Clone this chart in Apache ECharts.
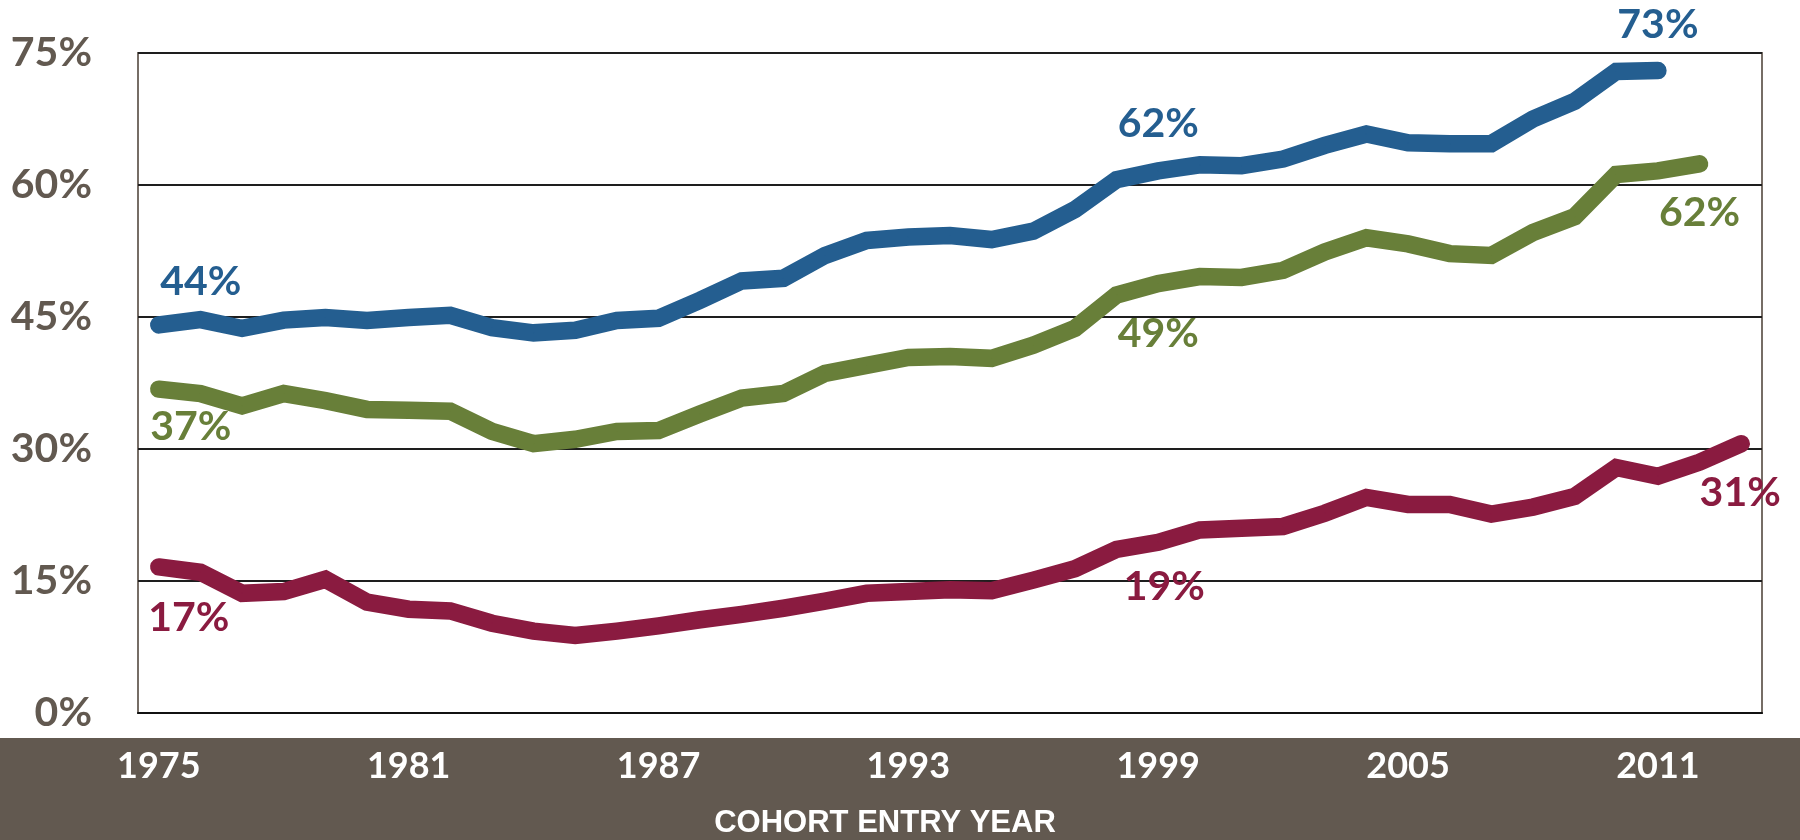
<!DOCTYPE html>
<html>
<head>
<meta charset="utf-8">
<script src="https://cdn.jsdelivr.net/npm/echarts@6/dist/echarts.min.js"></script>
<style>
html,body{margin:0;padding:0;background:#fff;}
#chart{width:1800px;height:840px;}
</style>
</head>
<body>
<div id="chart"></div>
<script>
// ---- data ----
const years = ['1975','1976','1977','1978','1979','1980','1981','1982','1983','1984','1985','1986','1987','1988','1989','1990','1991','1992','1993','1994','1995','1996','1997','1998','1999','2000','2001','2002','2003','2004','2005','2006','2007','2008','2009','2010','2011','2012','2013'];
const yTicks = [0, 15, 30, 45, 60, 75];
const xTitle = 'COHORT ENTRY YEAR';

const blueValues = [44.1,44.7,43.7,44.65,44.95,44.6,44.95,45.2,43.8,43.2,43.5,44.6,44.85,46.9,49.1,49.4,52.0,53.7,54.1,54.25,53.8,54.75,57.2,60.6,61.6,62.3,62.2,62.95,64.5,65.8,64.8,64.7,64.7,67.5,69.5,72.9,73.0,null,null];
const greenValues = [36.8,36.3,34.9,36.3,35.5,34.5,34.4,34.3,32.0,30.6,31.1,32.0,32.1,34.0,35.8,36.3,38.6,39.5,40.4,40.5,40.3,41.8,43.7,47.5,48.8,49.6,49.5,50.3,52.4,54.0,53.3,52.2,52.0,54.6,56.4,61.2,61.6,62.4,null];
const redValues = [16.6,16.0,13.6,13.8,15.2,12.6,11.8,11.6,10.2,9.3,8.8,9.3,9.9,10.6,11.2,11.9,12.7,13.6,13.8,14.0,13.9,15.1,16.4,18.6,19.4,20.8,21.0,21.2,22.7,24.5,23.7,23.7,22.6,23.4,24.6,27.9,26.9,28.5,30.6];

// which points carry a value label
const blueLabelYears = ['1975','1999','2011'];
const greenLabelYears = ['1975','1999','2012'];
const redLabelYears = ['1975','1999','2013'];

// ---- styling ----
const COLORS = {blue:'#245E90', green:'#687F39', red:'#8A1B40', band:'#625950', axisText:'#625950'};
const labelOffsets = {
  blue:  {'1975':[42,-43], '1999':[0,-47], '2011':[0,-46]},
  green: {'1975':[32,38],  '1999':[0,50],  '2012':[0,49]},
  red:   {'1975':[30,51],  '1999':[6,45],  '2013':[-1,49]}
};

function buildData(values, labelYears, color, offsets) {
  return values.map((v, i) => {
    const yr = years[i];
    if (v !== null && labelYears.indexOf(yr) >= 0) {
      return {
        value: v,
        label: {
          show: true,
          position: 'inside',
          offset: offsets[yr],
          formatter: p => Math.round(p.value) + '%',
          color: color,
          fontFamily: 'Lato',
          fontWeight: 'bold',
          fontSize: 41
        }
      };
    }
    return v;
  });
}

function lineSeries(name, values, labelYears, color, offsets) {
  return {
    name: name,
    type: 'line',
    data: buildData(values, labelYears, color, offsets),
    symbol: 'circle',
    symbolSize: 1,
    showSymbol: true,
    itemStyle: {color: color},
    lineStyle: {color: color, width: 17.5, cap: 'round', join: 'miter'},
    label: {show: false},
    emphasis: {disabled: true},
    animation: false
  };
}

const chart = echarts.init(document.getElementById('chart'), null, {renderer: 'canvas'});
chart.setOption({
  backgroundColor: '#ffffff',
  animation: false,
  grid: {left: 138, right: 38, top: 53, bottom: 127, show: true, borderColor: '#766d66', borderWidth: 2, backgroundColor: 'transparent'},
  graphic: [
    {type: 'rect', z: -10, silent: true, shape: {x: 0, y: 738, width: 1800, height: 102}, style: {fill: COLORS.band}},
    {type: 'text', z: 10, silent: true, x: 885, y: 823, style: {text: xTitle, fill: '#ffffff', font: 'bold 31px "Liberation Sans", Arial, sans-serif', textAlign: 'center', textVerticalAlign: 'middle'}}
  ],
  xAxis: {
    type: 'category',
    data: years,
    boundaryGap: true,
    axisLine: {show: true, lineStyle: {color: '#111111', width: 2}},
    axisTick: {show: false},
    axisLabel: {
      interval: 5,
      color: '#ffffff',
      fontFamily: 'Lato',
      fontWeight: 'bold',
      fontSize: 36,
      margin: 35
    },
    splitLine: {show: false}
  },
  yAxis: {
    type: 'value',
    min: yTicks[0],
    max: yTicks[yTicks.length - 1],
    interval: 15,
    axisLine: {show: false},
    axisTick: {show: false},
    axisLabel: {
      formatter: '{value}%',
      color: COLORS.axisText,
      fontFamily: 'Lato',
      fontWeight: 'bold',
      fontSize: 41,
      margin: 46
    },
    splitLine: {show: true, lineStyle: {color: '#1e1e1e', width: 2}}
  },
  series: [
    lineSeries('Blue', blueValues, blueLabelYears, COLORS.blue, labelOffsets.blue),
    lineSeries('Green', greenValues, greenLabelYears, COLORS.green, labelOffsets.green),
    lineSeries('Red', redValues, redLabelYears, COLORS.red, labelOffsets.red)
  ]
});
</script>
</body>
</html>
